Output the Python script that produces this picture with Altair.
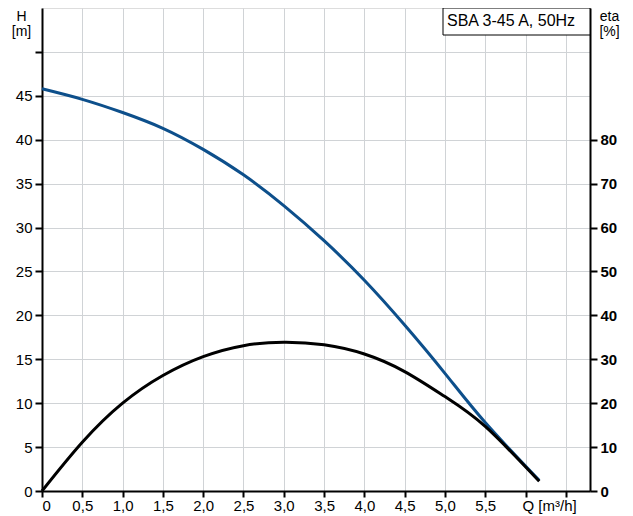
import altair as alt
import pandas as pd

# Flow rate Q [m³/h]
q_values = [0, 0.5, 1.0, 1.5, 2.0, 2.5, 3.0, 3.5, 4.0, 4.5, 5.0, 5.5, 6.17]
# Head H [m]
h_values = [45.8, 44.6, 43.1, 41.3, 38.9, 36.0, 32.5, 28.5, 24.0, 18.9, 13.4, 7.8, 1.2]
# Efficiency eta [%]
eta_values = [0, 11.1, 20.0, 26.3, 30.6, 33.1, 33.9, 33.3, 31.2, 27.2, 21.5, 14.7, 2.2]

x_ticks = [0, 0.5, 1.0, 1.5, 2.0, 2.5, 3.0, 3.5, 4.0, 4.5, 5.0, 5.5, 6.0, 6.5]
h_ticks = [0, 5, 10, 15, 20, 25, 30, 35, 40, 45, 50]
eta_ticks = [0, 10, 20, 30, 40, 50, 60, 70, 80]
box_label = "SBA 3-45 A, 50Hz"

df = pd.DataFrame({"Q": q_values, "H": h_values, "eta": eta_values})

FONT = "Liberation Sans"
GRID = "#d0d3d6"
BLUE = "#0d4f8b"
FS = 15

x_enc = alt.X(
    "Q:Q",
    scale=alt.Scale(domain=[0, 6.8], nice=False, zero=False),
    axis=alt.Axis(
        values=x_ticks,
        labelExpr="datum.value == 0 ? '0' : (datum.value >= 6 ? '' : replace(format(datum.value, '.1f'), '.', ','))",
        grid=True,
        gridColor=GRID,
        gridWidth=1,
        domainColor="black",
        domainWidth=2,
        tickColor="black",
        tickWidth=2,
        tickSize=6,
        labelPadding=1,
        labelFont=FONT,
        labelFontSize=FS,
        labelColor="black",
        title="Q [m³/h]",
        titleFont=FONT,
        titleFontSize=FS,
        titleFontWeight="normal",
        titleColor="black",
        titleAngle=0,
        titleAlign="left",
        titleBaseline="alphabetic",
        titleX=480,
        titleY=19,
    ),
)

h_line = alt.Chart(df).mark_line(
    color=BLUE, strokeWidth=3, interpolate="natural"
).encode(
    x=x_enc,
    y=alt.Y(
        "H:Q",
        scale=alt.Scale(domain=[0, 55], nice=False),
        axis=alt.Axis(
            orient="left",
            values=h_ticks,
            labelExpr="datum.value == 50 ? '' : datum.label",
            grid=True,
            gridColor=GRID,
            gridWidth=1,
            domainColor="black",
            domainWidth=2,
            tickColor="black",
            tickWidth=2,
            tickSize=7,
            labelPadding=3,
            labelFont=FONT,
            labelFontSize=FS,
            labelColor="black",
            title=["H", "[m]"],
            titleFont=FONT,
            titleFontSize=14,
            titleFontWeight="normal",
            titleColor="black",
            titleAngle=0,
            titleAlign="center",
            titleBaseline="alphabetic",
            titleLineHeight=15,
            titleX=-21,
            titleY=12,
        ),
    ),
)

eta_line = alt.Chart(df).mark_line(
    color="black", strokeWidth=3, interpolate="natural"
).encode(
    x=alt.X("Q:Q"),
    y=alt.Y(
        "eta:Q",
        scale=alt.Scale(domain=[0, 110], nice=False),
        axis=alt.Axis(
            orient="right",
            values=eta_ticks,
            grid=False,
            domainColor="black",
            domainWidth=2,
            tickColor="black",
            tickWidth=2,
            tickSize=7,
            labelPadding=3,
            labelFont=FONT,
            labelFontSize=FS,
            labelFontWeight="bold",
            labelColor="black",
            title=["eta", "[%]"],
            titleFont=FONT,
            titleFontSize=14,
            titleFontWeight="normal",
            titleColor="black",
            titleAngle=0,
            titleAlign="center",
            titleBaseline="alphabetic",
            titleLineHeight=15,
            titleX=19,
            titleY=12,
        ),
    ),
)

box = alt.Chart(pd.DataFrame({"t": [box_label]})).mark_rect(
    fill="white", stroke="black", strokeWidth=1
).encode(
    x=alt.value(401), x2=alt.value(548), y=alt.value(0), y2=alt.value(27)
)

box_text = alt.Chart(pd.DataFrame({"t": [box_label]})).mark_text(
    font=FONT, fontSize=16, align="left", baseline="alphabetic", color="black"
).encode(
    text="t:N", x=alt.value(405), y=alt.value(18)
)

chart = (
    alt.layer(h_line, eta_line, box, box_text)
    .resolve_scale(y="independent")
    .properties(
        width=548,
        height=483,
        padding={"left": 34, "top": 0, "right": 35, "bottom": 24},
        autosize=alt.AutoSizeParams(type="none"),
    )
    .configure_view(stroke="black", strokeWidth=2)
    .configure(background="white")
)

chart.save("out.html", embed_options={"renderer": "svg", "actions": False})
